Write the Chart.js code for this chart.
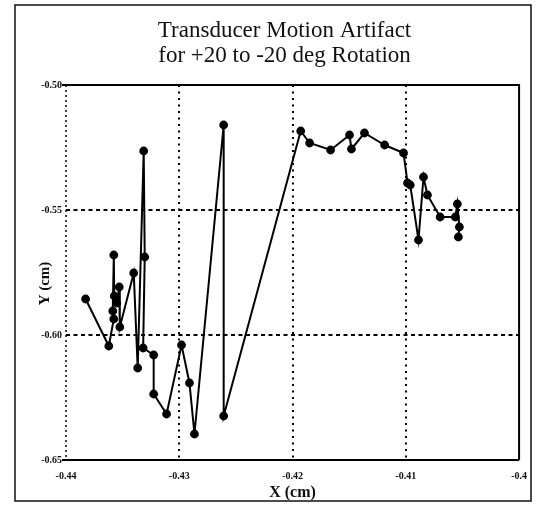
<!DOCTYPE html>
<html><head><meta charset="utf-8">
<script src="https://cdn.jsdelivr.net/npm/chart.js@4/dist/chart.umd.min.js"></script>
<style>html,body{margin:0;padding:0;background:#fff}#wrap{width:537px;height:506px;position:relative}</style>
</head><body><div id="wrap"><canvas id="c"></canvas></div>
<script>
const titleLines = ["Transducer Motion Artifact", "for +20 to -20 deg Rotation"];
const xAxisTitle = "X (cm)";
const yAxisTitle = "Y (cm)";
const xTickValues = [-0.44, -0.43, -0.42, -0.41, -0.40];
const xTickLabels = ["-0.44", "-0.43", "-0.42", "-0.41", "-0.4"];
const yTickValues = [-0.65, -0.60, -0.55, -0.50];
const yTickLabels = ["-0.65", "-0.60", "-0.55", "-0.50"];

const xValues = [-0.43827, -0.43622, -0.43578, -0.43587, -0.43578, -0.43574, -0.43552, -0.43530, -0.43525, -0.43402,
  -0.43367, -0.43314, -0.43305, -0.43319, -0.43226, -0.43226, -0.43112, -0.42980, -0.42910, -0.42866,
  -0.42608, -0.42608, -0.41928, -0.41849, -0.41664, -0.41497, -0.41480, -0.41365, -0.41187, -0.41020,
  -0.40985, -0.40961, -0.40888, -0.40844, -0.40809, -0.40697, -0.40563, -0.40545, -0.40527, -0.40536];
const yValues = [-0.5856, -0.6044, -0.5936, -0.5904, -0.5680, -0.5844, -0.5872, -0.5808, -0.5968, -0.5752,
  -0.6132, -0.5264, -0.5688, -0.6052, -0.6080, -0.6236, -0.6316, -0.6040, -0.6192, -0.6396,
  -0.5160, -0.6324, -0.5184, -0.5232, -0.5260, -0.5200, -0.5256, -0.5192, -0.5240, -0.5272,
  -0.5392, -0.5400, -0.5620, -0.5368, -0.5440, -0.5528, -0.5528, -0.5476, -0.5568, -0.5608];

const points = xValues.map((x, i) => ({x: x, y: yValues[i]}));
const serif = "'Liberation Serif', 'DejaVu Serif', serif";

const framePlugin = {
  id: 'frame',
  afterDraw(chart) {
    const ctx = chart.ctx;
    const a = chart.chartArea;
    ctx.save();
    // outer frame
    ctx.strokeStyle = '#111';
    ctx.lineWidth = 1.5;
    ctx.strokeRect(15, 5, 516, 496);
    // plot borders
    ctx.strokeStyle = '#000';
    ctx.lineWidth = 2;
    ctx.beginPath();
    ctx.moveTo(a.left - 4, a.top); ctx.lineTo(a.right, a.top);
    ctx.lineTo(a.right, a.bottom);
    ctx.moveTo(a.left - 4, a.bottom); ctx.lineTo(a.right, a.bottom);
    ctx.stroke();
    // left axis: dotted
    ctx.lineWidth = 1.5;
    ctx.setLineDash([2, 3]);
    ctx.beginPath();
    ctx.moveTo(a.left, a.top); ctx.lineTo(a.left, a.bottom);
    ctx.stroke();
    ctx.setLineDash([]);
    // title
    ctx.fillStyle = '#111';
    ctx.font = "23px " + serif;
    ctx.textAlign = 'center';
    ctx.textBaseline = 'alphabetic';
    const cx = (a.left + a.right) / 2 - 8;
    ctx.fillText(titleLines[0], cx, 37);
    ctx.fillText(titleLines[1], cx, 62);
    // y axis title
    ctx.save();
    ctx.translate(45, (a.top + a.bottom) / 2 + 11);
    ctx.rotate(-Math.PI / 2);
    ctx.font = "bold 15px " + serif;
    ctx.textBaseline = 'middle';
    ctx.fillText(yAxisTitle, 0, 0);
    ctx.restore();
    ctx.restore();
  }
};

const gridColor = (vals) => (c) => {
  const v = c.tick && c.tick.value;
  if (v === undefined) return 'rgba(0,0,0,0)';
  const isEdge = Math.abs(v - vals[0]) < 1e-9 || Math.abs(v - vals[vals.length - 1]) < 1e-9;
  return isEdge ? 'rgba(0,0,0,0)' : '#000';
};

new Chart(document.getElementById('c'), {
  type: 'scatter',
  data: {
    datasets: [{
      data: points,
      showLine: true,
      borderColor: '#000',
      backgroundColor: '#000',
      borderWidth: 2,
      pointRadius: 3.4,
      pointHoverRadius: 3.4,
      tension: 0
    }]
  },
  options: {
    responsive: true,
    maintainAspectRatio: false,
    animation: false,
    events: [],
    layout: {padding: {left: 0, right: 16, top: 85, bottom: 0}},
    plugins: {legend: {display: false}, tooltip: {enabled: false}, title: {display: false}},
    scales: {
      x: {
        type: 'linear',
        min: -0.44, max: -0.40,
        afterBuildTicks: (s) => { s.ticks = xTickValues.map(v => ({value: v})); },
        afterFit: (s) => { s.height = 46; },
        ticks: {
          padding: 10,
          color: '#111',
          font: {family: serif, size: 10, weight: 'bold'},
          callback: (v) => { const i = xTickValues.findIndex(t => Math.abs(t - v) < 1e-9); return i >= 0 ? xTickLabels[i] : ''; },
          maxRotation: 0
        },
        grid: {color: gridColor(xTickValues), lineWidth: 2, drawTicks: false},
        border: {display: false, dash: [2, 4.5]},
        title: {display: true, text: xAxisTitle, color: '#111', font: {family: serif, size: 16, weight: 'bold'}, padding: {top: 0, bottom: 4}}
      },
      y: {
        type: 'linear',
        min: -0.65, max: -0.50,
        afterBuildTicks: (s) => { s.ticks = yTickValues.map(v => ({value: v})); },
        afterFit: (s) => { s.width = 66; },
        ticks: {
          padding: 4,
          color: '#111',
          font: {family: serif, size: 10, weight: 'bold'},
          callback: (v) => { const i = yTickValues.findIndex(t => Math.abs(t - v) < 1e-9); return i >= 0 ? yTickLabels[i] : ''; }
        },
        grid: {color: gridColor(yTickValues), lineWidth: 2, drawTicks: false},
        border: {display: false, dash: [4, 3.5]},
        title: {display: false}
      }
    }
  },
  plugins: [framePlugin]
});
</script>
</body></html>
